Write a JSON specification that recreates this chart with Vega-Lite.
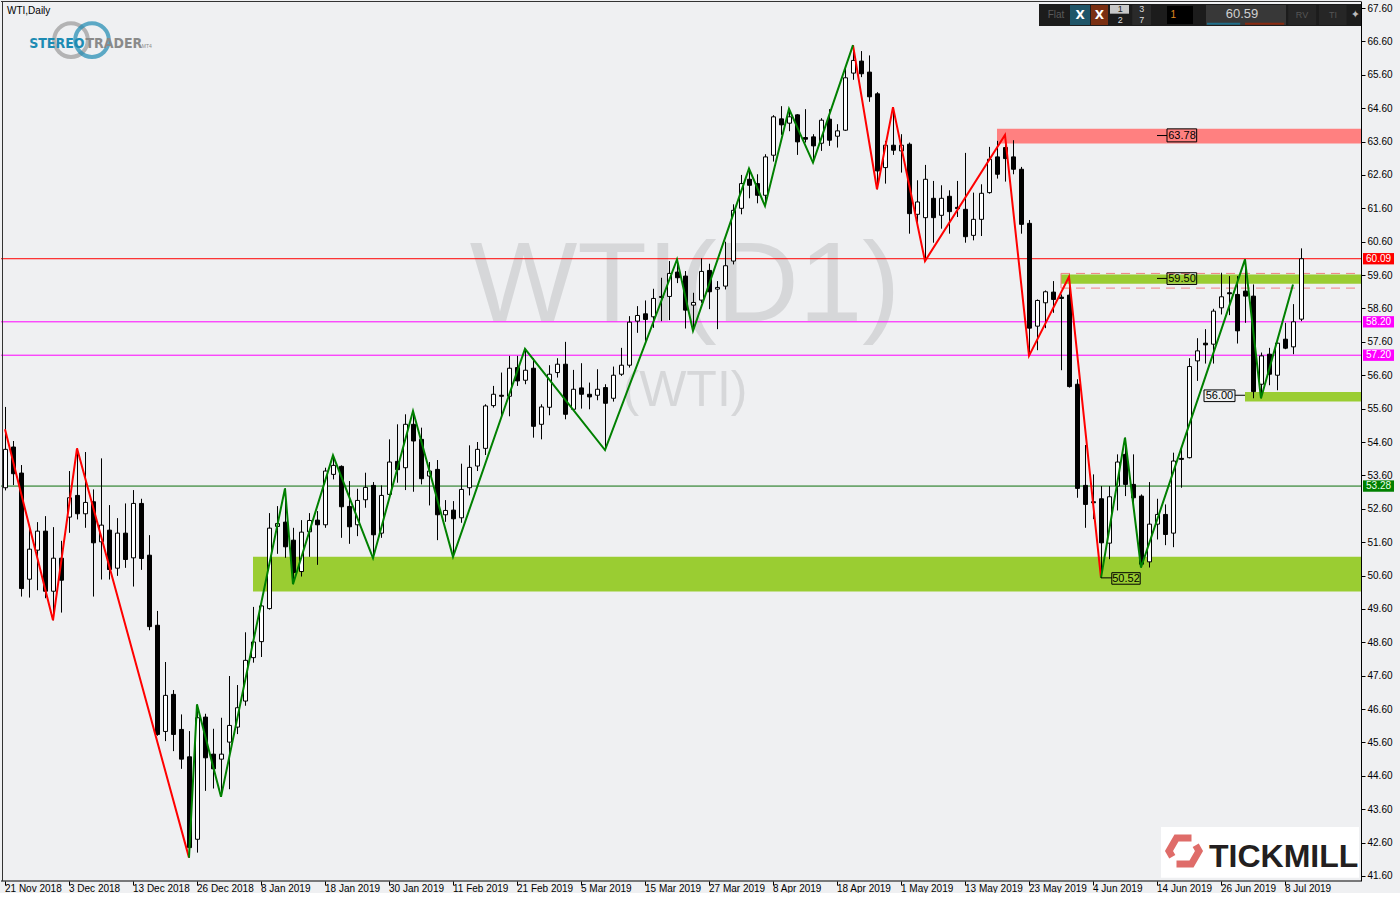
{
"$schema": "https://vega.github.io/schema/vega-lite/v6.json",
"width": 1400, "height": 880, "padding": 0, "autosize": {"type": "pad"},
"background": "#eff0f2",
"config": {"view": {"stroke": null}, "axis": {"labelFont": "Liberation Sans", "labelFontSize": 10, "labelColor": "#000000", "tickColor": "#000000", "domainColor": "#000000", "grid": false, "labelOverlap": false}},
"datasets": {
"candles": [
{"d":"21 Nov 2018","o":53.23,"h":55.65,"l":53.15,"c":54.38},
{"d":"22 Nov 2018","o":54.45,"h":54.63,"l":53.31,"c":53.65},
{"d":"23 Nov 2018","o":53.67,"h":53.91,"l":49.97,"c":50.21},
{"d":"26 Nov 2018","o":50.49,"h":51.99,"l":49.94,"c":51.39},
{"d":"27 Nov 2018","o":51.36,"h":52.20,"l":50.16,"c":51.93},
{"d":"28 Nov 2018","o":51.93,"h":52.38,"l":49.92,"c":50.13},
{"d":"29 Nov 2018","o":50.13,"h":52.05,"l":49.26,"c":51.12},
{"d":"30 Nov 2018","o":51.12,"h":51.64,"l":49.49,"c":50.46},
{"d":"3 Dec 2018","o":52.35,"h":53.73,"l":51.88,"c":52.93},
{"d":"4 Dec 2018","o":53.00,"h":54.41,"l":52.28,"c":52.45},
{"d":"5 Dec 2018","o":52.45,"h":54.30,"l":52.03,"c":52.79},
{"d":"6 Dec 2018","o":52.81,"h":53.18,"l":49.97,"c":51.58},
{"d":"7 Dec 2018","o":51.61,"h":54.11,"l":50.48,"c":52.11},
{"d":"10 Dec 2018","o":51.96,"h":52.71,"l":50.48,"c":50.78},
{"d":"11 Dec 2018","o":50.82,"h":52.32,"l":50.59,"c":51.87},
{"d":"12 Dec 2018","o":51.87,"h":52.76,"l":50.83,"c":51.08},
{"d":"13 Dec 2018","o":51.13,"h":53.16,"l":50.27,"c":52.76},
{"d":"14 Dec 2018","o":52.76,"h":52.90,"l":50.77,"c":51.11},
{"d":"17 Dec 2018","o":51.21,"h":51.81,"l":48.96,"c":49.07},
{"d":"18 Dec 2018","o":49.11,"h":49.54,"l":45.80,"c":45.84},
{"d":"19 Dec 2018","o":45.93,"h":48.01,"l":45.64,"c":47.01},
{"d":"20 Dec 2018","o":47.04,"h":47.17,"l":45.34,"c":45.84},
{"d":"21 Dec 2018","o":45.99,"h":46.44,"l":44.81,"c":45.10},
{"d":"24 Dec 2018","o":45.17,"h":45.94,"l":42.15,"c":42.45},
{"d":"26 Dec 2018","o":42.70,"h":46.74,"l":42.30,"c":46.34},
{"d":"27 Dec 2018","o":46.36,"h":46.46,"l":44.15,"c":45.14},
{"d":"28 Dec 2018","o":45.25,"h":46.01,"l":44.22,"c":44.81},
{"d":"31 Dec 2018","o":45.10,"h":46.34,"l":43.97,"c":45.25},
{"d":"2 Jan 2019","o":45.61,"h":47.59,"l":44.20,"c":46.11},
{"d":"3 Jan 2019","o":46.06,"h":47.32,"l":45.85,"c":46.64},
{"d":"4 Jan 2019","o":46.84,"h":48.90,"l":46.70,"c":48.06},
{"d":"7 Jan 2019","o":48.14,"h":49.66,"l":47.99,"c":48.61},
{"d":"8 Jan 2019","o":48.62,"h":49.86,"l":48.16,"c":49.69},
{"d":"9 Jan 2019","o":49.61,"h":52.47,"l":49.58,"c":52.02},
{"d":"10 Jan 2019","o":52.07,"h":52.68,"l":51.25,"c":52.16},
{"d":"11 Jan 2019","o":52.20,"h":53.21,"l":51.13,"c":51.46},
{"d":"14 Jan 2019","o":51.66,"h":52.03,"l":50.34,"c":50.69},
{"d":"15 Jan 2019","o":50.72,"h":52.26,"l":50.57,"c":51.90},
{"d":"16 Jan 2019","o":51.91,"h":52.47,"l":51.16,"c":52.25},
{"d":"17 Jan 2019","o":52.26,"h":52.53,"l":50.92,"c":52.12},
{"d":"18 Jan 2019","o":52.12,"h":53.83,"l":52.03,"c":53.73},
{"d":"21 Jan 2019","o":53.63,"h":54.20,"l":53.48,"c":53.90},
{"d":"22 Jan 2019","o":53.87,"h":53.90,"l":51.73,"c":52.66},
{"d":"23 Jan 2019","o":52.67,"h":53.43,"l":51.55,"c":52.06},
{"d":"24 Jan 2019","o":52.12,"h":53.20,"l":51.78,"c":52.85},
{"d":"25 Jan 2019","o":52.87,"h":53.68,"l":52.63,"c":53.24},
{"d":"28 Jan 2019","o":53.30,"h":53.40,"l":51.12,"c":51.82},
{"d":"29 Jan 2019","o":51.87,"h":53.30,"l":51.73,"c":53.00},
{"d":"30 Jan 2019","o":53.03,"h":54.68,"l":52.98,"c":54.00},
{"d":"31 Jan 2019","o":54.02,"h":55.13,"l":53.38,"c":53.77},
{"d":"1 Feb 2019","o":53.83,"h":55.43,"l":53.16,"c":55.13},
{"d":"4 Feb 2019","o":55.13,"h":55.53,"l":53.11,"c":54.63},
{"d":"5 Feb 2019","o":54.68,"h":55.03,"l":53.33,"c":53.50},
{"d":"6 Feb 2019","o":53.58,"h":54.00,"l":52.70,"c":53.73},
{"d":"7 Feb 2019","o":53.78,"h":54.06,"l":51.66,"c":52.42},
{"d":"8 Feb 2019","o":52.42,"h":52.86,"l":52.21,"c":52.55},
{"d":"11 Feb 2019","o":52.56,"h":52.83,"l":51.16,"c":52.30},
{"d":"12 Feb 2019","o":52.33,"h":53.95,"l":52.18,"c":53.18},
{"d":"13 Feb 2019","o":53.23,"h":54.50,"l":53.00,"c":53.84},
{"d":"14 Feb 2019","o":53.88,"h":54.60,"l":53.73,"c":54.38},
{"d":"15 Feb 2019","o":54.41,"h":55.73,"l":54.21,"c":55.68},
{"d":"18 Feb 2019","o":55.69,"h":56.28,"l":55.63,"c":56.03},
{"d":"19 Feb 2019","o":56.00,"h":56.68,"l":55.36,"c":55.97},
{"d":"20 Feb 2019","o":55.97,"h":57.18,"l":55.37,"c":56.81},
{"d":"21 Feb 2019","o":56.83,"h":57.18,"l":56.28,"c":56.43},
{"d":"22 Feb 2019","o":56.45,"h":57.39,"l":56.33,"c":56.75},
{"d":"25 Feb 2019","o":56.81,"h":57.11,"l":54.73,"c":55.07},
{"d":"26 Feb 2019","o":55.13,"h":55.73,"l":54.68,"c":55.65},
{"d":"27 Feb 2019","o":55.64,"h":56.90,"l":55.40,"c":56.63},
{"d":"28 Feb 2019","o":56.68,"h":57.11,"l":56.53,"c":56.93},
{"d":"1 Mar 2019","o":56.93,"h":57.60,"l":55.28,"c":55.43},
{"d":"4 Mar 2019","o":55.58,"h":56.76,"l":55.55,"c":56.18},
{"d":"5 Mar 2019","o":56.22,"h":56.96,"l":55.60,"c":56.03},
{"d":"6 Mar 2019","o":56.03,"h":56.38,"l":55.58,"c":55.95},
{"d":"7 Mar 2019","o":56.00,"h":56.78,"l":55.85,"c":56.18},
{"d":"8 Mar 2019","o":56.23,"h":56.33,"l":54.36,"c":55.76},
{"d":"11 Mar 2019","o":55.91,"h":56.86,"l":55.81,"c":56.60},
{"d":"12 Mar 2019","o":56.63,"h":57.42,"l":56.58,"c":56.90},
{"d":"13 Mar 2019","o":56.90,"h":58.37,"l":56.83,"c":58.19},
{"d":"14 Mar 2019","o":58.22,"h":58.67,"l":57.87,"c":58.39},
{"d":"15 Mar 2019","o":58.44,"h":58.84,"l":57.63,"c":58.27},
{"d":"18 Mar 2019","o":58.35,"h":59.19,"l":58.02,"c":58.90},
{"d":"19 Mar 2019","o":58.93,"h":59.52,"l":58.22,"c":58.96},
{"d":"20 Mar 2019","o":58.96,"h":60.02,"l":58.25,"c":59.65},
{"d":"21 Mar 2019","o":59.69,"h":60.07,"l":59.36,"c":59.52},
{"d":"22 Mar 2019","o":59.57,"h":59.72,"l":58.00,"c":58.55},
{"d":"25 Mar 2019","o":58.70,"h":59.07,"l":57.93,"c":58.78},
{"d":"26 Mar 2019","o":58.85,"h":60.10,"l":58.77,"c":59.71},
{"d":"27 Mar 2019","o":59.74,"h":59.94,"l":58.58,"c":59.10},
{"d":"28 Mar 2019","o":59.18,"h":59.42,"l":57.98,"c":59.23},
{"d":"29 Mar 2019","o":59.27,"h":60.60,"l":59.17,"c":59.88},
{"d":"1 Apr 2019","o":60.02,"h":61.72,"l":59.92,"c":61.54},
{"d":"2 Apr 2019","o":61.60,"h":62.60,"l":61.42,"c":62.34},
{"d":"3 Apr 2019","o":62.47,"h":62.79,"l":61.90,"c":62.29},
{"d":"4 Apr 2019","o":62.34,"h":62.62,"l":61.75,"c":61.99},
{"d":"5 Apr 2019","o":61.99,"h":63.22,"l":61.67,"c":63.14},
{"d":"8 Apr 2019","o":63.19,"h":64.39,"l":63.00,"c":64.34},
{"d":"9 Apr 2019","o":64.28,"h":64.66,"l":63.80,"c":64.10},
{"d":"10 Apr 2019","o":64.15,"h":64.58,"l":63.91,"c":64.34},
{"d":"11 Apr 2019","o":64.40,"h":64.42,"l":63.20,"c":63.59},
{"d":"12 Apr 2019","o":63.72,"h":64.57,"l":63.57,"c":63.67},
{"d":"15 Apr 2019","o":63.74,"h":63.82,"l":62.97,"c":63.47},
{"d":"16 Apr 2019","o":63.55,"h":64.30,"l":63.32,"c":64.24},
{"d":"17 Apr 2019","o":64.27,"h":64.57,"l":63.47,"c":63.64},
{"d":"18 Apr 2019","o":63.76,"h":64.12,"l":63.42,"c":63.92},
{"d":"22 Apr 2019","o":63.94,"h":65.86,"l":63.92,"c":65.51},
{"d":"23 Apr 2019","o":65.65,"h":66.49,"l":65.45,"c":66.03},
{"d":"24 Apr 2019","o":66.01,"h":66.31,"l":65.53,"c":65.63},
{"d":"25 Apr 2019","o":65.68,"h":66.18,"l":64.79,"c":64.94},
{"d":"26 Apr 2019","o":65.03,"h":65.08,"l":62.17,"c":62.72},
{"d":"29 Apr 2019","o":62.82,"h":63.62,"l":62.34,"c":63.49},
{"d":"30 Apr 2019","o":63.49,"h":64.63,"l":63.20,"c":63.34},
{"d":"1 May 2019","o":63.32,"h":63.82,"l":62.67,"c":63.49},
{"d":"2 May 2019","o":63.52,"h":63.57,"l":60.84,"c":61.44},
{"d":"3 May 2019","o":61.42,"h":62.44,"l":61.14,"c":61.79},
{"d":"6 May 2019","o":61.32,"h":62.90,"l":60.02,"c":62.47},
{"d":"7 May 2019","o":61.90,"h":62.42,"l":60.57,"c":61.32},
{"d":"8 May 2019","o":61.39,"h":62.29,"l":60.99,"c":61.90},
{"d":"9 May 2019","o":61.96,"h":62.14,"l":60.84,"c":61.50},
{"d":"10 May 2019","o":61.63,"h":62.42,"l":61.34,"c":61.59},
{"d":"13 May 2019","o":61.57,"h":63.26,"l":60.57,"c":60.75},
{"d":"14 May 2019","o":60.79,"h":62.07,"l":60.64,"c":61.27},
{"d":"15 May 2019","o":61.27,"h":62.32,"l":60.77,"c":62.05},
{"d":"16 May 2019","o":62.07,"h":63.44,"l":62.04,"c":63.07},
{"d":"17 May 2019","o":63.14,"h":63.62,"l":62.49,"c":62.62},
{"d":"20 May 2019","o":63.42,"h":63.80,"l":62.40,"c":63.09},
{"d":"21 May 2019","o":63.14,"h":63.64,"l":62.62,"c":62.77},
{"d":"22 May 2019","o":62.77,"h":62.84,"l":60.84,"c":61.12},
{"d":"23 May 2019","o":61.15,"h":61.25,"l":57.18,"c":58.01},
{"d":"24 May 2019","o":58.07,"h":58.87,"l":57.35,"c":58.84},
{"d":"27 May 2019","o":58.77,"h":59.14,"l":58.01,"c":59.10},
{"d":"28 May 2019","o":59.09,"h":59.42,"l":58.47,"c":58.87},
{"d":"29 May 2019","o":58.94,"h":59.02,"l":56.75,"c":58.90},
{"d":"30 May 2019","o":59.00,"h":59.55,"l":56.23,"c":56.26},
{"d":"31 May 2019","o":56.33,"h":56.48,"l":52.93,"c":53.21},
{"d":"3 Jun 2019","o":53.30,"h":54.51,"l":52.03,"c":52.73},
{"d":"4 Jun 2019","o":52.81,"h":53.63,"l":52.29,"c":52.78},
{"d":"5 Jun 2019","o":52.90,"h":53.28,"l":50.53,"c":51.58},
{"d":"6 Jun 2019","o":51.57,"h":53.28,"l":51.09,"c":52.96},
{"d":"7 Jun 2019","o":53.28,"h":54.23,"l":52.55,"c":54.00},
{"d":"10 Jun 2019","o":54.23,"h":54.73,"l":52.98,"c":53.33},
{"d":"11 Jun 2019","o":53.33,"h":54.23,"l":52.73,"c":52.93},
{"d":"12 Jun 2019","o":52.98,"h":53.03,"l":50.84,"c":50.94},
{"d":"13 Jun 2019","o":51.01,"h":53.40,"l":50.84,"c":52.14},
{"d":"14 Jun 2019","o":52.14,"h":52.90,"l":51.68,"c":52.43},
{"d":"17 Jun 2019","o":52.43,"h":52.73,"l":51.51,"c":51.83},
{"d":"18 Jun 2019","o":51.87,"h":54.28,"l":51.45,"c":54.03},
{"d":"19 Jun 2019","o":54.11,"h":54.41,"l":53.23,"c":54.08},
{"d":"20 Jun 2019","o":54.13,"h":57.11,"l":54.11,"c":56.86},
{"d":"21 Jun 2019","o":57.03,"h":57.71,"l":56.43,"c":57.33},
{"d":"24 Jun 2019","o":57.56,"h":57.98,"l":56.95,"c":57.51},
{"d":"25 Jun 2019","o":57.53,"h":58.59,"l":56.95,"c":58.52},
{"d":"26 Jun 2019","o":58.62,"h":59.67,"l":58.42,"c":58.95},
{"d":"27 Jun 2019","o":59.07,"h":59.57,"l":58.40,"c":59.04},
{"d":"28 Jun 2019","o":59.02,"h":59.57,"l":57.55,"c":57.93},
{"d":"1 Jul 2019","o":59.12,"h":60.07,"l":58.17,"c":58.97},
{"d":"2 Jul 2019","o":58.97,"h":59.32,"l":55.91,"c":56.11},
{"d":"3 Jul 2019","o":56.33,"h":57.28,"l":55.91,"c":57.18},
{"d":"4 Jul 2019","o":57.23,"h":57.42,"l":56.30,"c":56.63},
{"d":"5 Jul 2019","o":56.60,"h":57.58,"l":56.15,"c":57.56},
{"d":"8 Jul 2019","o":57.68,"h":58.17,"l":57.38,"c":57.41},
{"d":"9 Jul 2019","o":57.45,"h":58.73,"l":57.23,"c":58.20},
{"d":"10 Jul 2019","o":58.28,"h":60.40,"l":58.22,"c":60.09}
],
"zzRed": [
{"d":"21 Nov 2018","p":54.98,"leg":"a"},{"d":"29 Nov 2018","p":49.26,"leg":"a"},{"d":"4 Dec 2018","p":54.41,"leg":"a"},{"d":"24 Dec 2018","p":42.15,"leg":"a"},
{"d":"23 Apr 2019","p":66.49,"leg":"b"},{"d":"26 Apr 2019","p":62.17,"leg":"b"},{"d":"30 Apr 2019","p":64.63,"leg":"b"},{"d":"6 May 2019","p":60.02,"leg":"b"},{"d":"20 May 2019","p":63.80,"leg":"b"},{"d":"23 May 2019","p":57.18,"leg":"b"},{"d":"30 May 2019","p":59.55,"leg":"b"},{"d":"5 Jun 2019","p":50.53,"leg":"b"}
],
"zzGreen": [
{"d":"24 Dec 2018","p":42.15,"leg":"a"},{"d":"26 Dec 2018","p":46.74,"leg":"a"},{"d":"31 Dec 2018","p":43.97,"leg":"a"},{"d":"11 Jan 2019","p":53.21,"leg":"a"},{"d":"14 Jan 2019","p":50.34,"leg":"a"},{"d":"21 Jan 2019","p":54.20,"leg":"a"},{"d":"28 Jan 2019","p":51.12,"leg":"a"},{"d":"4 Feb 2019","p":55.53,"leg":"a"},{"d":"11 Feb 2019","p":51.16,"leg":"a"},{"d":"22 Feb 2019","p":57.39,"leg":"a"},{"d":"8 Mar 2019","p":54.36,"leg":"a"},{"d":"21 Mar 2019","p":60.07,"leg":"a"},{"d":"25 Mar 2019","p":57.93,"leg":"a"},{"d":"3 Apr 2019","p":62.79,"leg":"a"},{"d":"5 Apr 2019","p":61.67,"leg":"a"},{"d":"10 Apr 2019","p":64.58,"leg":"a"},{"d":"15 Apr 2019","p":62.97,"leg":"a"},{"d":"23 Apr 2019","p":66.49,"leg":"a"},
{"d":"5 Jun 2019","p":50.53,"leg":"b"},{"d":"10 Jun 2019","p":54.73,"leg":"b"},{"d":"12 Jun 2019","p":50.84,"leg":"b"},{"d":"1 Jul 2019","p":60.07,"leg":"b"},{"d":"3 Jul 2019","p":55.91,"leg":"b"},{"d":"9 Jul 2019","p":59.32,"leg":"b"}
]
},
"layer": [
{"data":{"values":[{}]},"mark":{"type":"text","font":"Liberation Sans","fontSize":114,"color":"#d6d7d9","align":"center","baseline":"alphabetic"},"encoding":{"x":{"datum":"22 Mar 2019","type":"ordinal"},"y":{"datum":58.23,"type":"quantitative"},"text":{"value":"WTI(D1)"}}},
{"data":{"values":[{}]},"mark":{"type":"text","font":"Liberation Sans","fontSize":50,"color":"#d6d7d9","align":"center","baseline":"alphabetic"},"encoding":{"x":{"datum":"22 Mar 2019","type":"ordinal"},"y":{"datum":55.68,"type":"quantitative"},"text":{"value":"(WTI)"}}},
{"data":{"values":[{}]},"mark":{"type":"rect","color":"#9acd32"},"encoding":{"x":{"datum":"7 Jan 2019","type":"ordinal","bandPosition":0.5},"x2":{"datum":"22 Jul 2019","bandPosition":0},"y":{"datum":51.16,"type":"quantitative"},"y2":{"datum":50.12}}},
{"data":{"values":[{}]},"mark":{"type":"rect","color":"#ff8080"},"encoding":{"x":{"datum":"17 May 2019","type":"ordinal","bandPosition":0.5},"x2":{"datum":"22 Jul 2019","bandPosition":0},"y":{"datum":63.98,"type":"quantitative"},"y2":{"datum":63.54}}},
{"data":{"values":[{}]},"mark":{"type":"rect","color":"#9acd32"},"encoding":{"x":{"datum":"29 May 2019","type":"ordinal","bandPosition":0.5},"x2":{"datum":"22 Jul 2019","bandPosition":0},"y":{"datum":59.62,"type":"quantitative"},"y2":{"datum":59.34}}},
{"data":{"values":[{}]},"mark":{"type":"rect","color":"#9acd32"},"encoding":{"x":{"datum":"1 Jul 2019","type":"ordinal","bandPosition":0.5},"x2":{"datum":"22 Jul 2019","bandPosition":0},"y":{"datum":56.10,"type":"quantitative"},"y2":{"datum":55.81}}},
{"data":{"values":[{}]},"mark":{"type":"rule","color":"#f08080","strokeDash":[9,6]},"encoding":{"x":{"datum":"29 May 2019","type":"ordinal","bandPosition":0.5},"x2":{"datum":"22 Jul 2019","bandPosition":0},"y":{"datum":59.65,"type":"quantitative"}}},
{"data":{"values":[{}]},"mark":{"type":"rule","color":"#f08080","strokeDash":[9,6]},"encoding":{"x":{"datum":"29 May 2019","type":"ordinal","bandPosition":0.5},"x2":{"datum":"22 Jul 2019","bandPosition":0},"y":{"datum":59.21,"type":"quantitative"}}},
{"data":{"values":[{}]},"mark":{"type":"rule","color":"#f08080"},"encoding":{"x":{"datum":"29 May 2019","type":"ordinal","bandPosition":0.5},"y":{"datum":59.65,"type":"quantitative"},"y2":{"datum":59.21}}},
{"data":{"values":[{}]},"mark":{"type":"rule","color":"#ff0000"},"encoding":{"x":{"datum":"21 Nov 2018","type":"ordinal","bandPosition":0},"x2":{"datum":"22 Jul 2019","bandPosition":0},"y":{"datum":60.09,"type":"quantitative"}}},
{"data":{"values":[{}]},"mark":{"type":"rule","color":"#ff00ff"},"encoding":{"x":{"datum":"21 Nov 2018","type":"ordinal","bandPosition":0},"x2":{"datum":"22 Jul 2019","bandPosition":0},"y":{"datum":58.20,"type":"quantitative"}}},
{"data":{"values":[{}]},"mark":{"type":"rule","color":"#ff00ff"},"encoding":{"x":{"datum":"21 Nov 2018","type":"ordinal","bandPosition":0},"x2":{"datum":"22 Jul 2019","bandPosition":0},"y":{"datum":57.20,"type":"quantitative"}}},
{"data":{"values":[{}]},"mark":{"type":"rule","color":"#0b6e0b"},"encoding":{"x":{"datum":"21 Nov 2018","type":"ordinal","bandPosition":0},"x2":{"datum":"22 Jul 2019","bandPosition":0},"y":{"datum":53.28,"type":"quantitative"}}},
{"data":{"name":"candles"},"mark":{"type":"rule","color":"#000000","strokeWidth":1,"xOffset":0.5},
 "encoding":{
  "x":{"field":"d","type":"ordinal","sort":null,
   "scale":{"domain":["21 Nov 2018","22 Nov 2018","23 Nov 2018","26 Nov 2018","27 Nov 2018","28 Nov 2018","29 Nov 2018","30 Nov 2018","3 Dec 2018","4 Dec 2018","5 Dec 2018","6 Dec 2018","7 Dec 2018","10 Dec 2018","11 Dec 2018","12 Dec 2018","13 Dec 2018","14 Dec 2018","17 Dec 2018","18 Dec 2018","19 Dec 2018","20 Dec 2018","21 Dec 2018","24 Dec 2018","26 Dec 2018","27 Dec 2018","28 Dec 2018","31 Dec 2018","2 Jan 2019","3 Jan 2019","4 Jan 2019","7 Jan 2019","8 Jan 2019","9 Jan 2019","10 Jan 2019","11 Jan 2019","14 Jan 2019","15 Jan 2019","16 Jan 2019","17 Jan 2019","18 Jan 2019","21 Jan 2019","22 Jan 2019","23 Jan 2019","24 Jan 2019","25 Jan 2019","28 Jan 2019","29 Jan 2019","30 Jan 2019","31 Jan 2019","1 Feb 2019","4 Feb 2019","5 Feb 2019","6 Feb 2019","7 Feb 2019","8 Feb 2019","11 Feb 2019","12 Feb 2019","13 Feb 2019","14 Feb 2019","15 Feb 2019","18 Feb 2019","19 Feb 2019","20 Feb 2019","21 Feb 2019","22 Feb 2019","25 Feb 2019","26 Feb 2019","27 Feb 2019","28 Feb 2019","1 Mar 2019","4 Mar 2019","5 Mar 2019","6 Mar 2019","7 Mar 2019","8 Mar 2019","11 Mar 2019","12 Mar 2019","13 Mar 2019","14 Mar 2019","15 Mar 2019","18 Mar 2019","19 Mar 2019","20 Mar 2019","21 Mar 2019","22 Mar 2019","25 Mar 2019","26 Mar 2019","27 Mar 2019","28 Mar 2019","29 Mar 2019","1 Apr 2019","2 Apr 2019","3 Apr 2019","4 Apr 2019","5 Apr 2019","8 Apr 2019","9 Apr 2019","10 Apr 2019","11 Apr 2019","12 Apr 2019","15 Apr 2019","16 Apr 2019","17 Apr 2019","18 Apr 2019","22 Apr 2019","23 Apr 2019","24 Apr 2019","25 Apr 2019","26 Apr 2019","29 Apr 2019","30 Apr 2019","1 May 2019","2 May 2019","3 May 2019","6 May 2019","7 May 2019","8 May 2019","9 May 2019","10 May 2019","13 May 2019","14 May 2019","15 May 2019","16 May 2019","17 May 2019","20 May 2019","21 May 2019","22 May 2019","23 May 2019","24 May 2019","27 May 2019","28 May 2019","29 May 2019","30 May 2019","31 May 2019","3 Jun 2019","4 Jun 2019","5 Jun 2019","6 Jun 2019","7 Jun 2019","10 Jun 2019","11 Jun 2019","12 Jun 2019","13 Jun 2019","14 Jun 2019","17 Jun 2019","18 Jun 2019","19 Jun 2019","20 Jun 2019","21 Jun 2019","24 Jun 2019","25 Jun 2019","26 Jun 2019","27 Jun 2019","28 Jun 2019","1 Jul 2019","2 Jul 2019","3 Jul 2019","4 Jul 2019","5 Jul 2019","8 Jul 2019","9 Jul 2019","10 Jul 2019","11 Jul 2019","12 Jul 2019","15 Jul 2019","16 Jul 2019","17 Jul 2019","18 Jul 2019","19 Jul 2019","22 Jul 2019","23 Jul 2019","24 Jul 2019","25 Jul 2019","26 Jul 2019"],"paddingInner":0,"paddingOuter":0},
   "axis":{"orient":"bottom","title":null,"domain":false,"values":["21 Nov 2018","3 Dec 2018","13 Dec 2018","26 Dec 2018","8 Jan 2019","18 Jan 2019","30 Jan 2019","11 Feb 2019","21 Feb 2019","5 Mar 2019","15 Mar 2019","27 Mar 2019","8 Apr 2019","18 Apr 2019","1 May 2019","13 May 2019","23 May 2019","4 Jun 2019","14 Jun 2019","26 Jun 2019","8 Jul 2019"],"labelAlign":"left","labelAngle":0,"labelOverlap":false,"tickSize":4,"labelPadding":3,"labelFontSize":10}},
  "y":{"field":"l","type":"quantitative","scale":{"domain":[41.45,67.81],"nice":false,"zero":false},
   "axis":{"orient":"right","offset":-40,"title":null,"values":[41.6,42.6,43.6,44.6,45.6,46.6,47.6,48.6,49.6,50.6,51.6,52.6,53.6,54.6,55.6,56.6,57.6,58.6,59.6,60.6,61.6,62.6,63.6,64.6,65.6,66.6,67.6],"tickCount":100,"format":".2f","labelOverlap":false,"labelFlush":false,"tickSize":4,"labelPadding":2,"labelFontSize":10,"domain":true}},
  "y2":{"field":"h"}}},
{"data":{"name":"candles"},"mark":{"type":"bar","width":4,"stroke":"#000000","strokeWidth":1,"xOffset":0.5},
 "encoding":{"x":{"field":"d","type":"ordinal","sort":null},"y":{"field":"o","type":"quantitative"},"y2":{"field":"c"},
  "fill":{"condition":{"test":"datum.c >= datum.o","value":"#ffffff"},"value":"#000000"}}},
{"data":{"name":"zzRed"},"mark":{"type":"line","color":"#ff0000","strokeWidth":2},"encoding":{"x":{"field":"d","type":"ordinal","sort":null},"y":{"field":"p","type":"quantitative"},"detail":{"field":"leg"},"order":{"value":null}}},
{"data":{"name":"zzGreen"},"mark":{"type":"line","color":"#008000","strokeWidth":2},"encoding":{"x":{"field":"d","type":"ordinal","sort":null},"y":{"field":"p","type":"quantitative"},"detail":{"field":"leg"},"order":{"value":null}}},

{"data":{"values":[{}]},"mark":{"type":"rule","color":"#000000"},"encoding":{"x":{"datum":"5 Jun 2019","type":"ordinal","bandPosition":0.5},"x2":{"datum":"6 Jun 2019","bandPosition":0.85},"y":{"datum":50.53,"type":"quantitative"}}},
{"data":{"values":[{}]},"mark":{"type":"rect","filled":false,"color":"#000000","strokeWidth":1},"encoding":{"x":{"datum":"6 Jun 2019","type":"ordinal","bandPosition":0.85},"x2":{"datum":"12 Jun 2019","bandPosition":0.4},"y":{"datum":50.685,"type":"quantitative"},"y2":{"datum":50.34}}},
{"data":{"values":[{}]},"mark":{"type":"text","font":"Liberation Sans","fontSize":11,"color":"#000000","align":"center","baseline":"middle"},"encoding":{"x":{"datum":"10 Jun 2019","type":"ordinal","bandPosition":0.625},"y":{"datum":50.51,"type":"quantitative"},"text":{"value":"50.52"}}},

{"data":{"values":[{}]},"mark":{"type":"rule","color":"#000000"},"encoding":{"x":{"datum":"14 Jun 2019","type":"ordinal","bandPosition":0.5},"x2":{"datum":"17 Jun 2019","bandPosition":0.75},"y":{"datum":59.50,"type":"quantitative"}}},
{"data":{"values":[{}]},"mark":{"type":"rect","filled":false,"color":"#000000","strokeWidth":1},"encoding":{"x":{"datum":"17 Jun 2019","type":"ordinal","bandPosition":0.75},"x2":{"datum":"21 Jun 2019","bandPosition":0.46},"y":{"datum":59.67,"type":"quantitative"},"y2":{"datum":59.32}}},
{"data":{"values":[{}]},"mark":{"type":"text","font":"Liberation Sans","fontSize":11,"color":"#000000","align":"center","baseline":"middle"},"encoding":{"x":{"datum":"19 Jun 2019","type":"ordinal","bandPosition":0.625},"y":{"datum":59.49,"type":"quantitative"},"text":{"value":"59.50"}}},

{"data":{"values":[{}]},"mark":{"type":"rule","color":"#000000"},"encoding":{"x":{"datum":"14 Jun 2019","type":"ordinal","bandPosition":0.5},"x2":{"datum":"17 Jun 2019","bandPosition":0.75},"y":{"datum":63.78,"type":"quantitative"}}},
{"data":{"values":[{}]},"mark":{"type":"rect","filled":false,"color":"#000000","strokeWidth":1},"encoding":{"x":{"datum":"17 Jun 2019","type":"ordinal","bandPosition":0.75},"x2":{"datum":"21 Jun 2019","bandPosition":0.46},"y":{"datum":63.98,"type":"quantitative"},"y2":{"datum":63.59}}},
{"data":{"values":[{}]},"mark":{"type":"text","font":"Liberation Sans","fontSize":11,"color":"#000000","align":"center","baseline":"middle"},"encoding":{"x":{"datum":"19 Jun 2019","type":"ordinal","bandPosition":0.625},"y":{"datum":63.77,"type":"quantitative"},"text":{"value":"63.78"}}},

{"data":{"values":[{}]},"mark":{"type":"rule","color":"#000000"},"encoding":{"x":{"datum":"28 Jun 2019","type":"ordinal","bandPosition":0.25},"x2":{"datum":"1 Jul 2019","bandPosition":0.5},"y":{"datum":56.0,"type":"quantitative"}}},
{"data":{"values":[{}]},"mark":{"type":"rect","filled":false,"color":"#000000","strokeWidth":1},"encoding":{"x":{"datum":"24 Jun 2019","type":"ordinal","bandPosition":0.375},"x2":{"datum":"28 Jun 2019","bandPosition":0.25},"y":{"datum":56.16,"type":"quantitative"},"y2":{"datum":55.81}}},
{"data":{"values":[{}]},"mark":{"type":"text","font":"Liberation Sans","fontSize":11,"color":"#000000","align":"center","baseline":"middle"},"encoding":{"x":{"datum":"26 Jun 2019","type":"ordinal","bandPosition":0.31},"y":{"datum":55.98,"type":"quantitative"},"text":{"value":"56.00"}}},

{"data":{"values":[{}]},"mark":{"type":"rect","color":"#ff0000"},"encoding":{"x":{"datum":"22 Jul 2019","type":"ordinal","bandPosition":0.25},"x2":{"datum":"26 Jul 2019","bandPosition":0.125},"y":{"datum":60.26,"type":"quantitative"},"y2":{"datum":59.92}}},
{"data":{"values":[{}]},"mark":{"type":"text","font":"Liberation Sans","fontSize":10,"color":"#ffffff","align":"center","baseline":"middle"},"encoding":{"x":{"datum":"24 Jul 2019","type":"ordinal","bandPosition":0.19},"y":{"datum":60.09,"type":"quantitative"},"text":{"value":"60.09"}}},
{"data":{"values":[{}]},"mark":{"type":"rect","color":"#ff00ff"},"encoding":{"x":{"datum":"22 Jul 2019","type":"ordinal","bandPosition":0.25},"x2":{"datum":"26 Jul 2019","bandPosition":0.125},"y":{"datum":58.37,"type":"quantitative"},"y2":{"datum":58.03}}},
{"data":{"values":[{}]},"mark":{"type":"text","font":"Liberation Sans","fontSize":10,"color":"#ffffff","align":"center","baseline":"middle"},"encoding":{"x":{"datum":"24 Jul 2019","type":"ordinal","bandPosition":0.19},"y":{"datum":58.20,"type":"quantitative"},"text":{"value":"58.20"}}},
{"data":{"values":[{}]},"mark":{"type":"rect","color":"#ff00ff"},"encoding":{"x":{"datum":"22 Jul 2019","type":"ordinal","bandPosition":0.25},"x2":{"datum":"26 Jul 2019","bandPosition":0.125},"y":{"datum":57.37,"type":"quantitative"},"y2":{"datum":57.03}}},
{"data":{"values":[{}]},"mark":{"type":"text","font":"Liberation Sans","fontSize":10,"color":"#ffffff","align":"center","baseline":"middle"},"encoding":{"x":{"datum":"24 Jul 2019","type":"ordinal","bandPosition":0.19},"y":{"datum":57.20,"type":"quantitative"},"text":{"value":"57.20"}}},
{"data":{"values":[{}]},"mark":{"type":"rect","color":"#008000"},"encoding":{"x":{"datum":"22 Jul 2019","type":"ordinal","bandPosition":0.25},"x2":{"datum":"26 Jul 2019","bandPosition":0.125},"y":{"datum":53.45,"type":"quantitative"},"y2":{"datum":53.11}}},
{"data":{"values":[{}]},"mark":{"type":"text","font":"Liberation Sans","fontSize":10,"color":"#e8ffe8","align":"center","baseline":"middle"},"encoding":{"x":{"datum":"24 Jul 2019","type":"ordinal","bandPosition":0.19},"y":{"datum":53.28,"type":"quantitative"},"text":{"value":"53.28"}}},

{"data":{"values":[{}]},"mark":{"type":"rule","color":"#000000"},"encoding":{"x":{"datum":"21 Nov 2018","type":"ordinal","bandPosition":0},"x2":{"datum":"22 Jul 2019","bandPosition":0},"y":{"datum":41.45,"type":"quantitative"}}},
{"data":{"values":[{}]},"mark":{"type":"rule","color":"#333333","xOffset":1.5},"encoding":{"x":{"datum":"21 Nov 2018","type":"ordinal","bandPosition":0},"y":{"datum":41.45,"type":"quantitative"},"y2":{"datum":67.81}}},
{"data":{"values":[{}]},"mark":{"type":"rule","color":"#333333","yOffset":0.5},"encoding":{"x":{"datum":"21 Nov 2018","type":"ordinal","bandPosition":0},"x2":{"datum":"22 Jul 2019","bandPosition":0},"y":{"datum":67.81,"type":"quantitative"}}},

{"data":{"values":[{}]},"mark":{"type":"text","font":"Liberation Sans","fontSize":10,"color":"#000000","align":"left","baseline":"middle","dx":6},"encoding":{"x":{"datum":"21 Nov 2018","type":"ordinal","bandPosition":0},"y":{"datum":67.50,"type":"quantitative"},"text":{"value":"WTI,Daily"}}},
{"data":{"values":[{}]},"mark":{"type":"point","shape":"circle","filled":false,"color":"#9a9a9a","strokeWidth":4,"size":1134},"encoding":{"x":{"datum":"3 Dec 2018","type":"ordinal","bandPosition":0.75},"y":{"datum":66.64,"type":"quantitative"}}},
{"data":{"values":[{}]},"mark":{"type":"point","shape":"circle","filled":false,"color":"#1d8bb3","strokeWidth":4,"size":1134},"encoding":{"x":{"datum":"6 Dec 2018","type":"ordinal","bandPosition":0.375},"y":{"datum":66.64,"type":"quantitative"}}},
{"data":{"values":[{}]},"mark":{"type":"text","font":"DejaVu Sans Condensed, sans-serif","fontWeight":"bold","fontSize":14,"color":"#1d8bb3","align":"right","baseline":"alphabetic","dx":-0.5},"encoding":{"x":{"datum":"5 Dec 2018","type":"ordinal","bandPosition":0.5},"y":{"datum":66.40,"type":"quantitative"},"text":{"value":"STEREO"}}},
{"data":{"values":[{}]},"mark":{"type":"text","font":"DejaVu Sans Condensed, sans-serif","fontWeight":"bold","fontSize":14,"color":"#8a8a8a","align":"left","baseline":"alphabetic","dx":0.5},"encoding":{"x":{"datum":"5 Dec 2018","type":"ordinal","bandPosition":0.5},"y":{"datum":66.40,"type":"quantitative"},"text":{"value":"TRADER"}}},
{"data":{"values":[{}]},"mark":{"type":"text","font":"Liberation Sans","fontSize":5,"color":"#8a8a8a","align":"left","baseline":"alphabetic"},"encoding":{"x":{"datum":"14 Dec 2018","type":"ordinal","bandPosition":0.6},"y":{"datum":66.40,"type":"quantitative"},"text":{"value":"MT4"}}},

{"data":{"values":[{}]},"mark":{"type":"rect","color":"#ffffff"},"encoding":{"x":{"datum":"17 Jun 2019","type":"ordinal","bandPosition":0},"x2":{"datum":"19 Jul 2019","bandPosition":0.75},"y":{"datum":43.07,"type":"quantitative"},"y2":{"datum":41.55}}},
{"data":{"values":[{}]},"mark":{"type":"point","shape":"M0.5,-0.866 L-0.5,-0.866 L-1,0 L-0.78,0.38 M-0.5,0.866 L0.5,0.866 L1,0 L0.78,-0.38","filled":false,"color":"#d22f2a","strokeWidth":7,"size":900},"encoding":{"x":{"datum":"19 Jun 2019","type":"ordinal","bandPosition":0.875},"y":{"datum":42.35,"type":"quantitative"}}},
{"data":{"values":[{}]},"mark":{"type":"text","font":"Liberation Sans","fontWeight":"bold","fontSize":32,"color":"#231f20","align":"left","baseline":"alphabetic"},"encoding":{"x":{"datum":"25 Jun 2019","type":"ordinal","bandPosition":0},"y":{"datum":41.87,"type":"quantitative"},"text":{"value":"TICKMILL"}}},

{"data":{"values":[{}]},"mark":{"type":"rect","color":"#1c1c1c"},"encoding":{"x":{"datum":"24 May 2019","type":"ordinal","bandPosition":0.75},"x2":{"datum":"22 Jul 2019","bandPosition":0},"y":{"datum":67.72,"type":"quantitative"},"y2":{"datum":67.06}}},
{"data":{"values":[{}]},"mark":{"type":"text","font":"Liberation Sans","fontSize":10,"color":"#5a5a5a","align":"center","baseline":"middle"},"encoding":{"x":{"datum":"28 May 2019","type":"ordinal","bandPosition":0.875},"y":{"datum":67.39,"type":"quantitative"},"text":{"value":"Flat"}}},
{"data":{"values":[{}]},"mark":{"type":"rect","color":"#1f5568"},"encoding":{"x":{"datum":"30 May 2019","type":"ordinal","bandPosition":0.625},"x2":{"datum":"4 Jun 2019","bandPosition":0.125},"y":{"datum":67.69,"type":"quantitative"},"y2":{"datum":67.09}}},
{"data":{"values":[{}]},"mark":{"type":"rect","color":"#7a2f12"},"encoding":{"x":{"datum":"4 Jun 2019","type":"ordinal","bandPosition":0.25},"x2":{"datum":"6 Jun 2019","bandPosition":0.375},"y":{"datum":67.69,"type":"quantitative"},"y2":{"datum":67.09}}},
{"data":{"values":[{}]},"mark":{"type":"text","font":"DejaVu Sans","fontWeight":"bold","fontSize":12,"color":"#ffffff","align":"center","baseline":"middle"},"encoding":{"x":{"datum":"31 May 2019","type":"ordinal","bandPosition":0.875},"y":{"datum":67.39,"type":"quantitative"},"text":{"value":"X"}}},
{"data":{"values":[{}]},"mark":{"type":"text","font":"DejaVu Sans","fontWeight":"bold","fontSize":12,"color":"#ffffff","align":"center","baseline":"middle"},"encoding":{"x":{"datum":"5 Jun 2019","type":"ordinal","bandPosition":0.31},"y":{"datum":67.39,"type":"quantitative"},"text":{"value":"X"}}},
{"data":{"values":[{}]},"mark":{"type":"rect","color":"#c8c8c8"},"encoding":{"x":{"datum":"6 Jun 2019","type":"ordinal","bandPosition":0.625},"x2":{"datum":"11 Jun 2019","bandPosition":0},"y":{"datum":67.69,"type":"quantitative"},"y2":{"datum":67.43}}},
{"data":{"values":[{}]},"mark":{"type":"rect","color":"#2a2a2a"},"encoding":{"x":{"datum":"11 Jun 2019","type":"ordinal","bandPosition":0.4},"x2":{"datum":"13 Jun 2019","bandPosition":0.75},"y":{"datum":67.69,"type":"quantitative"},"y2":{"datum":67.09}}},
{"data":{"values":[{}]},"mark":{"type":"text","font":"Liberation Sans","fontSize":9,"color":"#222222","align":"center","baseline":"middle"},"encoding":{"x":{"datum":"7 Jun 2019","type":"ordinal","bandPosition":0.9},"y":{"datum":67.56,"type":"quantitative"},"text":{"value":"1"}}},
{"data":{"values":[{}]},"mark":{"type":"text","font":"Liberation Sans","fontSize":9,"color":"#dddddd","align":"center","baseline":"middle"},"encoding":{"x":{"datum":"7 Jun 2019","type":"ordinal","bandPosition":0.9},"y":{"datum":67.23,"type":"quantitative"},"text":{"value":"2"}}},
{"data":{"values":[{}]},"mark":{"type":"text","font":"Liberation Sans","fontSize":9,"color":"#dddddd","align":"center","baseline":"middle"},"encoding":{"x":{"datum":"12 Jun 2019","type":"ordinal","bandPosition":0.6},"y":{"datum":67.56,"type":"quantitative"},"text":{"value":"3"}}},
{"data":{"values":[{}]},"mark":{"type":"text","font":"Liberation Sans","fontSize":9,"color":"#dddddd","align":"center","baseline":"middle"},"encoding":{"x":{"datum":"12 Jun 2019","type":"ordinal","bandPosition":0.6},"y":{"datum":67.23,"type":"quantitative"},"text":{"value":"7"}}},
{"data":{"values":[{}]},"mark":{"type":"rect","color":"#000000"},"encoding":{"x":{"datum":"17 Jun 2019","type":"ordinal","bandPosition":0.75},"x2":{"datum":"21 Jun 2019","bandPosition":0},"y":{"datum":67.66,"type":"quantitative"},"y2":{"datum":67.12}}},
{"data":{"values":[{}]},"mark":{"type":"text","font":"Liberation Sans","fontSize":10,"color":"#e08a20","align":"left","baseline":"middle"},"encoding":{"x":{"datum":"18 Jun 2019","type":"ordinal","bandPosition":0.2},"y":{"datum":67.39,"type":"quantitative"},"text":{"value":"1"}}},
{"data":{"values":[{}]},"mark":{"type":"rect","color":"#383838"},"encoding":{"x":{"datum":"24 Jun 2019","type":"ordinal","bandPosition":0.625},"x2":{"datum":"8 Jul 2019","bandPosition":0.625},"y":{"datum":67.69,"type":"quantitative"},"y2":{"datum":67.09}}},
{"data":{"values":[{}]},"mark":{"type":"rect","color":"#1f6e8a"},"encoding":{"x":{"datum":"24 Jun 2019","type":"ordinal","bandPosition":0.75},"x2":{"datum":"28 Jun 2019","bandPosition":0.9},"y":{"datum":67.16,"type":"quantitative"},"y2":{"datum":67.10}}},
{"data":{"values":[{}]},"mark":{"type":"rect","color":"#8a2a10"},"encoding":{"x":{"datum":"1 Jul 2019","type":"ordinal","bandPosition":0.5},"x2":{"datum":"8 Jul 2019","bandPosition":0.4},"y":{"datum":67.16,"type":"quantitative"},"y2":{"datum":67.10}}},
{"data":{"values":[{}]},"mark":{"type":"text","font":"Liberation Sans","fontSize":13,"color":"#d0d0d0","align":"center","baseline":"middle"},"encoding":{"x":{"datum":"1 Jul 2019","type":"ordinal","bandPosition":0.125},"y":{"datum":67.43,"type":"quantitative"},"text":{"value":"60.59"}}},
{"data":{"values":[{}]},"mark":{"type":"rect","color":"#262626"},"encoding":{"x":{"datum":"8 Jul 2019","type":"ordinal","bandPosition":0.9},"x2":{"datum":"12 Jul 2019","bandPosition":0.4},"y":{"datum":67.69,"type":"quantitative"},"y2":{"datum":67.09}}},
{"data":{"values":[{}]},"mark":{"type":"rect","color":"#262626"},"encoding":{"x":{"datum":"12 Jul 2019","type":"ordinal","bandPosition":0.75},"x2":{"datum":"18 Jul 2019","bandPosition":0.2},"y":{"datum":67.69,"type":"quantitative"},"y2":{"datum":67.09}}},
{"data":{"values":[{}]},"mark":{"type":"text","font":"Liberation Sans","fontSize":9,"color":"#555555","align":"center","baseline":"middle"},"encoding":{"x":{"datum":"10 Jul 2019","type":"ordinal","bandPosition":0.625},"y":{"datum":67.39,"type":"quantitative"},"text":{"value":"RV"}}},
{"data":{"values":[{}]},"mark":{"type":"text","font":"Liberation Sans","fontSize":9,"color":"#555555","align":"center","baseline":"middle"},"encoding":{"x":{"datum":"16 Jul 2019","type":"ordinal","bandPosition":0.5},"y":{"datum":67.39,"type":"quantitative"},"text":{"value":"TI"}}},
{"data":{"values":[{}]},"mark":{"type":"text","font":"DejaVu Sans","fontSize":11,"color":"#bbbbbb","align":"center","baseline":"middle"},"encoding":{"x":{"datum":"19 Jul 2019","type":"ordinal","bandPosition":0.3},"y":{"datum":67.39,"type":"quantitative"},"text":{"value":"✦"}}}
]
}
